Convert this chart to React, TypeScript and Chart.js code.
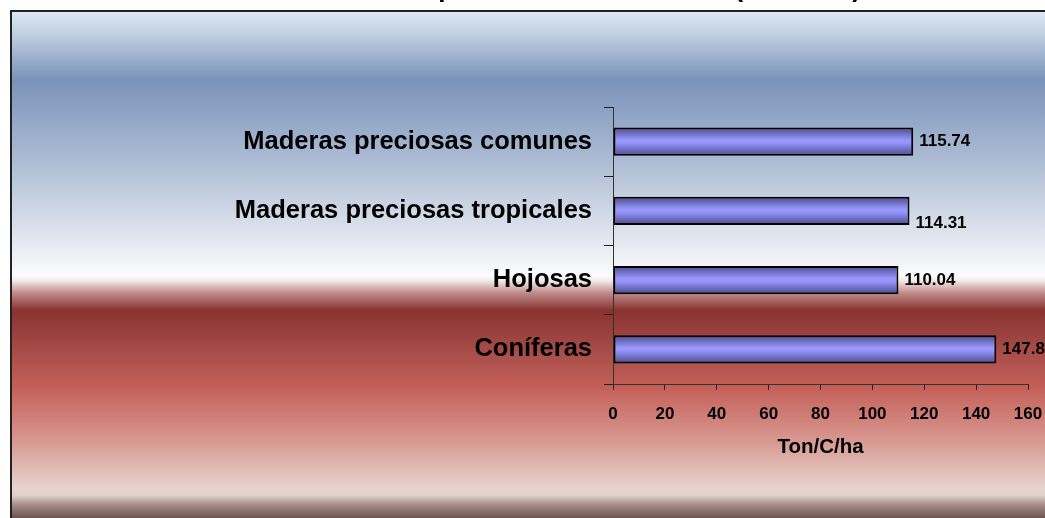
import React, { useEffect, useRef } from "react";
import { Chart, registerables } from "chart.js";

Chart.register(...registerables);

// ---- data ----
const CATEGORIES = [
  "Coníferas",
  "Hojosas",
  "Maderas preciosas tropicales",
  "Maderas preciosas comunes",
];
const VALUES = [147.8, 110.04, 114.31, 115.74];
const X_MIN = 0;
const X_MAX = 160;
const X_STEP = 20;
const X_TITLE = "Ton/C/ha";
const CHART_TITLE = "Carbono almacenado en plantaciones forestales (Ton/C/ha)";
// label vertical nudge (style), per category
const LABEL_DY = [0, 0, 12, 0];

const FONT = '"Liberation Sans", Arial, Helvetica, sans-serif';

const backgroundPlugin = {
  id: "bgFrame",
  beforeDraw(chart: any) {
    const { ctx, width, height } = chart;
    ctx.save();
    ctx.fillStyle = "#ffffff";
    ctx.fillRect(0, 0, width, height);
    const y0 = 12;
    const g = ctx.createLinearGradient(0, y0, 0, height);
    const stops: [number, string][] = [
      [0, "#dce9f4"],
      [0.04, "#c3d2e4"],
      [0.134, "#7a93b9"],
      [0.279, "#a8b8d2"],
      [0.411, "#d5dce8"],
      [0.52, "#fbfbfd"],
      [0.53, "#f5ecec"],
      [0.555, "#c08c8a"],
      [0.589, "#8a3331"],
      [0.674, "#a84e4a"],
      [0.741, "#c45f58"],
      [0.84, "#d6948d"],
      [0.939, "#e6d3cc"],
      [0.955, "#e2d2cc"],
      [0.974, "#a58c87"],
      [1, "#6e5450"],
    ];
    stops.forEach(([o, c]) => g.addColorStop(o, c));
    ctx.fillStyle = g;
    ctx.fillRect(12, y0, width - 12, height - y0);
    ctx.strokeStyle = "#222222";
    ctx.lineWidth = 2;
    ctx.beginPath();
    ctx.moveTo(11, height + 2);
    ctx.lineTo(11, 11);
    ctx.lineTo(width + 2, 11);
    ctx.stroke();
    // title (mostly cut off at the top)
    ctx.fillStyle = "#000";
    ctx.font = `bold 26px ${FONT}`;
    ctx.textAlign = "center";
    ctx.textBaseline = "alphabetic";
    ctx.fillText(CHART_TITLE, 495, -3.5);
    ctx.restore();
  },
};

const valueLabelPlugin = {
  id: "valueLabels",
  afterDatasetsDraw(chart: any) {
    const { ctx } = chart;
    const meta = chart.getDatasetMeta(0);
    ctx.save();
    ctx.font = `bold 17px ${FONT}`;
    ctx.fillStyle = "#000";
    ctx.textAlign = "left";
    ctx.textBaseline = "middle";
    meta.data.forEach((el: any, i: number) => {
      ctx.fillText(String(VALUES[i]), el.x + 6, el.y + (LABEL_DY[i] || 0));
    });
    ctx.restore();
  },
};

const BAR_PCT = 0.41;

export default function App() {
  const ref = useRef<HTMLCanvasElement | null>(null);

  useEffect(() => {
    if (!ref.current) return;
    const chart = new Chart(ref.current, {
      type: "bar",
      data: {
        labels: CATEGORIES,
        datasets: [
          {
            data: VALUES,
            backgroundColor: (c: any) => {
              const ch = c.chart;
              const ys = ch.scales && ch.scales.y;
              if (!ys || c.dataIndex === undefined || !ys.height) return "#9494ff";
              const y = ys.getPixelForValue(c.dataIndex);
              const half = (ys.height / CATEGORIES.length) * BAR_PCT / 2;
              const g = ch.ctx.createLinearGradient(0, y - half, 0, y + half);
              g.addColorStop(0, "#4a4a8c");
              g.addColorStop(0.45, "#9999ff");
              g.addColorStop(0.55, "#9494fa");
              g.addColorStop(1, "#4a4a8c");
              return g;
            },
            borderColor: "#000000",
            borderWidth: 2,
            borderSkipped: false,
            barPercentage: BAR_PCT,
            categoryPercentage: 1,
          },
        ],
      },
      options: {
        indexAxis: "y",
        responsive: false,
        animation: false,
        layout: { padding: { left: 0, right: 17, top: 107, bottom: 54 } },
        plugins: {
          legend: { display: false },
          title: { display: false },
          tooltip: { enabled: false },
        },
        scales: {
          y: {
            reverse: true,
            grid: {
              display: true,
              drawOnChartArea: false,
              drawTicks: true,
              tickLength: 9,
              color: "#222222",
              offset: true,
            },
            border: { display: true, color: "#333333", width: 1 },
            ticks: {
              color: "#000",
              padding: 12,
              font: { family: FONT, size: 25.5, weight: "bold" },
            },
            afterFit: (scale: any) => {
              scale.width = 613;
            },
          },
          x: {
            min: X_MIN,
            max: X_MAX,
            grid: {
              display: true,
              drawOnChartArea: false,
              drawTicks: true,
              tickLength: 6,
              color: "#222222",
            },
            border: { display: true, color: "#333333", width: 1 },
            ticks: {
              stepSize: X_STEP,
              color: "#000",
              padding: 0,
              maxRotation: 0,
              font: { family: FONT, size: 17, weight: "bold", lineHeight: 2.82 },
            },
            title: {
              display: true,
              text: X_TITLE,
              color: "#000",
              padding: { top: 0, bottom: 4 },
              font: { family: FONT, size: 20.5, weight: "bold" },
            },
            afterFit: (scale: any) => {
              scale.height = 80;
            },
          },
        },
      },
      plugins: [backgroundPlugin, valueLabelPlugin],
    } as any);
    return () => chart.destroy();
  }, []);

  return (
    <div style={{ position: "absolute", left: 0, top: 0, width: 1045, height: 518 }}>
      <canvas ref={ref} width={1045} height={518} style={{ display: "block" }} />
    </div>
  );
}
